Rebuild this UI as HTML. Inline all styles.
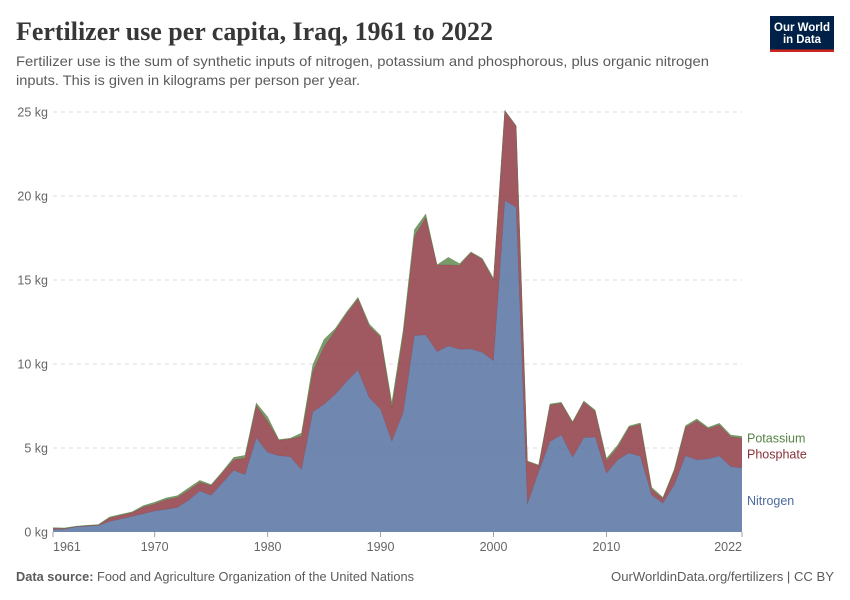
<!DOCTYPE html>
<html lang="en">
<head>
<meta charset="utf-8">
<title>Fertilizer use per capita, Iraq, 1961 to 2022</title>
<style>
html,body{margin:0;padding:0;background:#fff;width:850px;height:600px;overflow:hidden}
svg{display:block;font-family:"Liberation Sans",sans-serif}
</style>
</head>
<body>
<svg id="chart" width="850" height="600" viewBox="0 0 850 600" xmlns="http://www.w3.org/2000/svg">
  <text x="16" y="40" font-family="'Liberation Serif',serif" font-weight="700" font-size="26" fill="#373737" textLength="477" lengthAdjust="spacingAndGlyphs">Fertilizer use per capita, Iraq, 1961 to 2022</text>
  <text x="16" y="66" font-size="14" fill="#5b5b5b" textLength="693" lengthAdjust="spacingAndGlyphs">Fertilizer use is the sum of synthetic inputs of nitrogen, potassium and phosphorous, plus organic nitrogen</text>
  <text x="16" y="85" font-size="14" fill="#5b5b5b" textLength="344" lengthAdjust="spacingAndGlyphs">inputs. This is given in kilograms per person per year.</text>

  <g>
    <rect x="770" y="16" width="64" height="36" fill="#002147"/>
    <rect x="770" y="49.5" width="64" height="2.5" fill="#ce261e"/>
    <text x="802" y="31" font-size="11.5" font-weight="700" fill="#fff" text-anchor="middle" textLength="56" lengthAdjust="spacingAndGlyphs">Our World</text>
    <text x="802" y="43" font-size="11.5" font-weight="700" fill="#fff" text-anchor="middle" textLength="38" lengthAdjust="spacingAndGlyphs">in Data</text>
  </g>

  <g id="grid"></g>
  <g id="areas"></g>
  <g id="xaxis"></g>
  <g id="legend"></g>

  <text x="16" y="581" font-size="12.5" fill="#5b5b5b" textLength="398" lengthAdjust="spacingAndGlyphs"><tspan font-weight="700">Data source:</tspan> Food and Agriculture Organization of the United Nations</text>
  <text x="834" y="581" font-size="12.5" fill="#5b5b5b" text-anchor="end" textLength="223" lengthAdjust="spacingAndGlyphs">OurWorldinData.org/fertilizers | CC BY</text>
</svg>
<script>
const startYear = 1961;
const nitrogen = [0.14,0.16,0.30,0.34,0.38,0.63,0.77,0.93,1.09,1.25,1.35,1.45,1.88,2.44,2.18,2.92,3.67,3.41,5.60,4.74,4.54,4.48,3.71,7.14,7.60,8.20,8.95,9.64,8.00,7.30,5.40,7.10,11.70,11.73,10.73,11.07,10.87,10.89,10.69,10.20,19.72,19.33,1.67,3.59,5.38,5.77,4.44,5.62,5.65,3.49,4.29,4.70,4.50,2.20,1.71,2.80,4.54,4.29,4.35,4.52,3.89,3.81];
const phosphate = [0.08,0.05,0.02,0.03,0.03,0.20,0.23,0.22,0.40,0.42,0.57,0.61,0.60,0.52,0.58,0.62,0.63,0.99,1.92,1.85,0.92,1.06,1.99,2.41,3.43,3.80,4.05,4.23,4.26,4.30,2.00,4.60,5.90,7.00,5.17,4.83,5.00,5.74,5.54,4.80,5.36,4.82,2.52,0.36,2.18,1.89,2.07,2.12,1.53,0.76,0.75,1.53,1.91,0.34,0.29,0.83,1.69,2.34,1.80,1.85,1.78,1.77];
const potassium = [0.04,0.03,0.02,0.03,0.03,0.06,0.05,0.05,0.08,0.10,0.10,0.10,0.14,0.11,0.06,0.06,0.14,0.16,0.16,0.26,0.04,0.04,0.19,0.39,0.44,0.12,0.10,0.10,0.12,0.10,0.30,0.30,0.40,0.20,0.00,0.45,0.10,0.04,0.06,0.10,0.02,0.04,0.04,0.04,0.06,0.06,0.06,0.06,0.08,0.13,0.14,0.08,0.08,0.12,0.06,0.10,0.10,0.10,0.08,0.10,0.10,0.11];
const yTicks = [0,5,10,15,20,25];
const yTickLabels = ["0 kg","5 kg","10 kg","15 kg","20 kg","25 kg"];
const xTicks = [1961,1970,1980,1990,2000,2010,2022];
const seriesNames = ["Nitrogen","Phosphate","Potassium"];
const seriesColors = ["#4C6A9C","#883039","#578145"];
const legendAnchors = [1.875,4.65,5.6];

const NS = "http://www.w3.org/2000/svg";
const plot = {left:53,right:742,top:112,bottom:532};
const yMax = 25;
const endYear = startYear + nitrogen.length - 1;
const xScale = yr => plot.left + (yr - startYear) / (endYear - startYear) * (plot.right - plot.left);
const yScale = v => plot.bottom - v / yMax * (plot.bottom - plot.top);
function mk(tag, attrs, parent, text){
  const el = document.createElementNS(NS, tag);
  for (const k in attrs) el.setAttribute(k, attrs[k]);
  if (text !== undefined) el.textContent = text;
  parent.appendChild(el);
  return el;
}
const gridG = document.getElementById("grid");
yTicks.forEach((t,i) => {
  if (t !== 0) {
    const line = mk("line",{x1:plot.left,x2:plot.right,y1:yScale(t),y2:yScale(t),stroke:"#dddddd","stroke-width":1,"stroke-dasharray":"4,4"},gridG);
    
    
  }
  const lab = mk("text",{x:48,y:yScale(t)+4.5,"text-anchor":"end","font-size":12.5,fill:"#666666"},gridG,yTickLabels[i]);
  
  
});

const stacks = [nitrogen, phosphate, potassium];
const areasG = document.getElementById("areas");
const cum = nitrogen.map(() => 0);
stacks.forEach((vals,s) => {
  const lower = cum.slice();
  vals.forEach((v,i) => { cum[i] += v; });
  const top = cum.map((v,i) => xScale(startYear+i).toFixed(2)+","+yScale(v).toFixed(2));
  const bot = lower.map((v,i) => xScale(startYear+i).toFixed(2)+","+yScale(v).toFixed(2)).reverse();
  const area = mk("polygon",{points:top.concat(bot).join(" "),fill:seriesColors[s],"fill-opacity":0.8},areasG);
  
  
  const edge = mk("polyline",{points:top.join(" "),fill:"none",stroke:seriesColors[s],"stroke-width":0.5,"stroke-opacity":0.7},areasG);
  
  
});

const xG = document.getElementById("xaxis");
xTicks.forEach((yr,i) => {
  const x = xScale(yr);
  const tick = mk("line",{x1:x,x2:x,y1:plot.bottom,y2:plot.bottom+5,stroke:"#a1a1a1","stroke-width":1},xG);
  
  
  const anchor = i === 0 ? "start" : (i === xTicks.length-1 ? "end" : "middle");
  const lab = mk("text",{x:x,y:plot.bottom+19,"text-anchor":anchor,"font-size":12.5,fill:"#666666"},xG,String(yr));
  
  
});

const legG = document.getElementById("legend");
seriesNames.forEach((name,i) => {
  const lab = mk("text",{x:747,y:yScale(legendAnchors[i])+4.5,"font-size":12.5,fill:seriesColors[i]},legG,name);
  
  
});
</script>
</body>
</html>
